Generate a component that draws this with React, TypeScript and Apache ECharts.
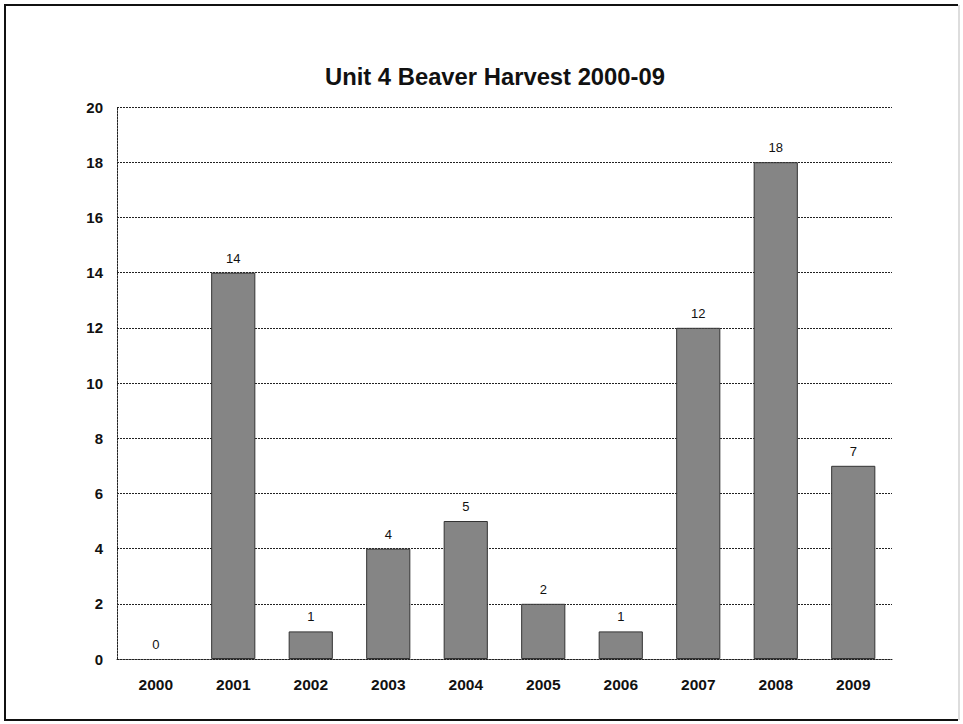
import React, { useEffect, useRef } from "react";
import * as echarts from "echarts";

const title = "Unit 4 Beaver Harvest 2000-09";
const years = ["2000", "2001", "2002", "2003", "2004", "2005", "2006", "2007", "2008", "2009"];
const harvest = [0, 14, 1, 4, 5, 2, 1, 12, 18, 7];
const yMin = 0;
const yMax = 20;
const yStep = 2;

const FONT = "'Liberation Sans', Arial, sans-serif";

export default function App() {
  const ref = useRef<HTMLDivElement>(null);
  useEffect(() => {
    if (!ref.current) return;
    const chart = echarts.init(ref.current, null, { renderer: "svg" });
    chart.setOption({
      animation: false,
      backgroundColor: "#ffffff",
      title: {
        text: title,
        left: 320,
        top: 59,
        textStyle: { fontFamily: FONT, fontSize: 23.8, fontWeight: "bold", color: "#111" },
      },
      graphic: [
        {
          type: "polyline",
          shape: { points: [[958, 5], [5, 5], [5, 720], [958, 720]] },
          style: { stroke: "#111", lineWidth: 2, fill: "none" },
          silent: true,
        },
        {
          type: "line",
          shape: { x1: 959, y1: 5, x2: 959, y2: 720 },
          style: { stroke: "#bbb", lineWidth: 1 },
          silent: true,
        },
      ],
      grid: { left: 117, right: 71, top: 107, bottom: 65, containLabel: false },
      xAxis: {
        type: "category",
        data: years,
        axisTick: { show: false },
        axisLine: { show: true, lineStyle: { color: "#222", type: [2, 1], width: 1 } },
        axisLabel: { margin: 17, fontFamily: FONT, fontSize: 15.5, fontWeight: "bold", color: "#111" },
      },
      yAxis: {
        type: "value",
        min: yMin,
        max: yMax,
        interval: yStep,
        axisLine: { show: true, lineStyle: { color: "#222", type: [2, 1], width: 1 } },
        axisTick: { show: false },
        splitLine: { show: true, lineStyle: { color: "#222", type: [2, 1], width: 1 } },
        axisLabel: { margin: 14, fontFamily: FONT, fontSize: 15, fontWeight: "bold", color: "#111" },
      },
      series: [
        {
          type: "bar",
          data: harvest.map((v) => (v === 0 ? { value: v, itemStyle: { borderWidth: 0 } } : v)),
          barWidth: "57%",
          itemStyle: { color: "#858585", borderColor: "#333", borderWidth: 1 },
          label: {
            show: true,
            position: "top",
            distance: 8,
            fontFamily: FONT,
            fontSize: 13,
            color: "#111",
          },
        },
      ],
    });
    return () => chart.dispose();
  }, []);
  return (
    <div
      ref={ref}
      style={{ position: "fixed", left: 0, top: 0, width: 963, height: 724 }}
    />
  );
}
